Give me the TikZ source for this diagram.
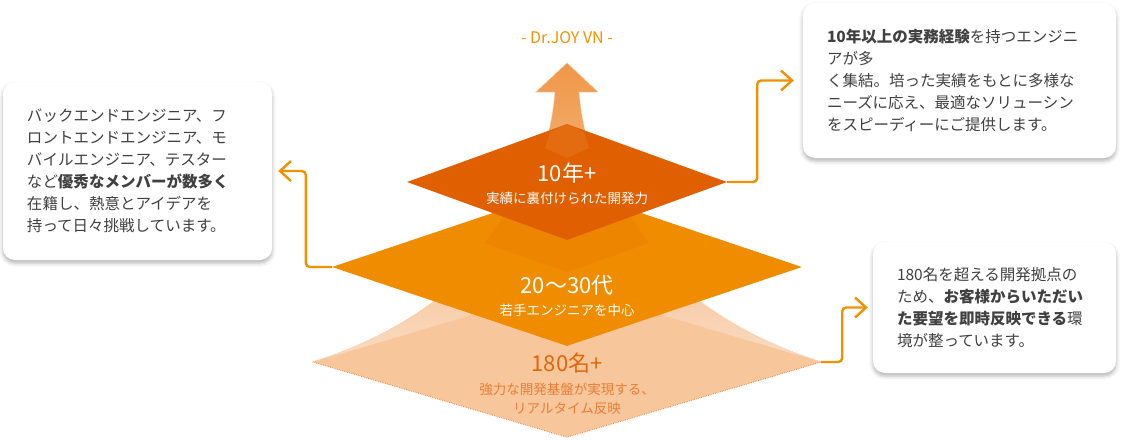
\documentclass[tikz,border=0pt]{standalone}
\usepackage{fontspec}
\setmainfont{Noto Sans CJK JP}
\usetikzlibrary{shapes.geometric,arrows.meta,shadows.blur}
\definecolor{tierTop}{HTML}{E05F00}
\definecolor{tierMid}{HTML}{F08C00}
\definecolor{tierBot}{HTML}{F7C69B}
\definecolor{beamTop}{HTML}{EF9747}
\definecolor{beamBot}{HTML}{FADCC3}
\definecolor{linkOr}{HTML}{F29100}
\definecolor{txtGray}{HTML}{404040}
\definecolor{botTxt}{HTML}{E2660C}
\definecolor{botSub}{HTML}{E87E35}
\begin{document}
\begin{tikzpicture}[x=1pt, y=-1pt,
  tier/.style={diamond, inner sep=0pt, draw=none},
  card/.style={rectangle, rounded corners=12pt, fill=white, align=left, inner xsep=24pt, inner ysep=0pt, text=txtGray,
    font=\fontsize{15.5pt}{22pt}\selectfont,
    blur shadow={shadow xshift=0pt, shadow yshift=-3pt, shadow blur radius=4pt, shadow opacity=30}},
  link/.style={draw=linkOr, line width=2.4pt, rounded corners=4pt, -{Straight Barb[length=11pt, width=20pt]}},
  big/.style={font=\fontsize{22pt}{24pt}\selectfont, inner sep=0pt},
  sub/.style={font=\fontsize{13.5pt}{18.5pt}\selectfont, inner sep=0pt, align=center}
]
\useasboundingbox (0,0) rectangle (1123,439);

% Beam (arrow widening downwards)
\path[top color=beamTop, bottom color=beamBot, draw=beamTop!55!white, densely dotted, line width=0.8pt]
  (567,63) -- (598,92) -- (579,92) .. controls (588,205) and (670,315) .. (822,362)
  -- (567,300) -- (312,362) .. controls (464,315) and (546,205) .. (555,92) -- (536,92) -- cycle;

% Tiers
\node[tier, fill=tierBot, minimum width=508pt, minimum height=150pt] (bot) at (567,362) {};
\draw[draw=botTxt!80!white, densely dotted, line width=0.8pt] (bot.west) -- (bot.south) -- (bot.east);
\node[tier, fill=tierMid, minimum width=470pt, minimum height=158pt] (mid) at (567,267) {};
\fill[tierMid!85!tierTop] (485,243) -- (567,272) -- (649,243) -- (612,190) -- (522,190) -- cycle;
\node[tier, fill=tierTop, minimum width=320pt, minimum height=116pt] (top) at (567,182) {};
\fill[tierTop!78!beamTop] (545,148) -- (567,158) -- (589,148) -- (584,132) -- (567,124) -- (550,132) -- cycle;

% Labels
\node[font=\fontsize{16pt}{18pt}\selectfont, text=linkOr] (brand) at (567,38) {- Dr.JOY VN -};
\node[big, text=white] (topv) at (567,173) {10年+};
\node[sub, text=white] (topd) at (567,198) {実績に裏付けられた開発力};
\node[big, text=white] (midv) at (567,285) {20～30代};
\node[sub, text=white] (midd) at (567,310) {若手エンジニアを中心};
\node[big, text=botTxt] (botv) at (567,363) {180名+};
\node[sub, text=botSub] (botd) at (567,399) {強力な開発基盤が実現する、\\リアルタイム反映};

% Cards
\node[card, text width=221pt, minimum height=178pt] (lb) at (137.5,171)
  {バックエンドエンジニア、フ\\ロントエンドエンジニア、モ\\バイルエンジニア、テスター\\など\textbf{優秀なメンバーが数多く}\\在籍し、熱意とアイデアを\\持って日々挑戦しています。};
\node[card, text width=265pt, minimum height=155pt] (rt) at (959.5,80.5)
  {\textbf{10年以上の実務経験}を持つエンジニ\\アが多\\く集結。培った実績をもとに多様な\\ニーズに応え、最適なソリューシン\\をスピーディーにご提供します。};
\node[card, text width=195pt, minimum height=131pt] (rb) at (994.5,307.5)
  {180名を超える開発拠点の\\ため、\textbf{お客様からいただい}\\\textbf{た要望を即時反映できる}環\\境が整っています。};

% Connectors
\draw[link] (top.east) -- ++(30,0) |- ([xshift=-9pt]rt.west);
\draw[link] (mid.west) -- ++(-26,0) |- ([xshift=6pt]lb.east);
\draw[link] (bot.east) -- ++(21,0) |- ([xshift=-5pt]rb.west);

\end{tikzpicture}
\end{document}
